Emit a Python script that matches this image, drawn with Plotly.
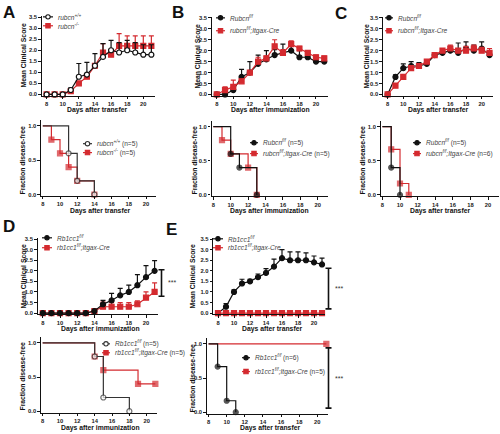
import plotly.graph_objects as go

W, H = 500, 434

# ---------------- data ----------------
days = list(range(8, 22))

# A: clinical score (transfer)
a_wt = [0, 0, 0, 0.2, 0.8, 0.9, 1.3, 1.7, 2.0, 1.9, 2.0, 1.9, 1.8, 1.8]
a_wt_err = [None, None, None, 0.1, 0.6, 0.55, 0.55, 0.6, 0.45, 0.45, 0.45, 0.45, 0.45, 0.45]
a_ko = [0, 0, 0, 0.15, 0.5, 0.8, 1.3, 1.9, 1.8, 2.2, 2.2, 2.2, 2.2, 2.2]
a_ko_err = [None, None, None, None, None, None, None, 0.4, 0.15, 0.55, 0.45, 0.45, 0.45, 0.45]

# B: clinical score (immunization)
b_wt = [0, 0, 0.2, 0.8, 1.0, 1.4, 1.6, 1.8, 1.9, 2.0, 1.7, 1.7, 1.5, 1.5]
b_wt_err = [None, None, 0.1, 0.35, 0.5, 0.4, 0.4, 0.25, 0.4, 0.2, 0.3, 0.2, 0.2, 0.15]
b_ko = [0, 0.2, 0.35, 0.6, 1.0, 1.5, 1.65, 2.2, 1.9, 2.3, 2.1, 1.9, 1.7, 1.65]
b_ko_err = [None, 0.15, 0.3, 0.1, None, 0.2, 0.1, 0.3, 0.15, 0.15, 0.1, 0.1, 0.1, 0.1]

# C: clinical score (transfer)
c_wt = [0, 0.8, 1.2, 1.3, 1.3, 1.4, 1.8, 1.9, 2.0, 1.9, 2.1, 2.0, 2.1, 1.8]
c_wt_err = [None, 0.1, 0.2, 0.2, 0.15, 0.15, 0.1, 0.15, 0.2, 0.45, 0.3, 0.25, 0.3, 0.15]
c_ko = [0, 0.4, 0.8, 1.2, 1.3, 1.5, 1.8, 2.0, 2.1, 2.0, 2.0, 2.1, 2.0, 1.9]
c_ko_err = [None, 0.1, 0.1, 0.1, 0.1, 0.05, 0.1, 0.1, 0.15, 0.1, 0.2, 0.15, 0.15, 0.2]

# D: clinical score (immunization)
d_wt = [0, 0, 0, 0, 0, 0, 0.1, 0.42, 0.6, 0.84, 1.0, 1.32, 1.7, 2.0]
d_wt_err = [None, None, None, None, None, None, None, 0.18, 0.33, 0.33, 0.32, 0.5, 0.55, 0.48]
d_ko = [0, 0, 0, 0, 0, 0, 0.1, 0.3, 0.3, 0.3, 0.3, 0.42, 0.73, 1.0]
d_ko_err = [None, None, None, None, None, None, None, 0.22, 0.2, 0.2, 0.2, 0.16, 0.27, 0.43]

# E: clinical score (transfer)
e_wt = [0, 0.3, 1.0, 1.4, 1.5, 1.7, 1.9, 2.2, 2.6, 2.5, 2.5, 2.5, 2.4, 2.3]
e_wt_err = [None, 0.15, 0.1, 0.2, 0.1, 0.15, 0.2, 0.35, 0.4, 0.4, 0.4, 0.35, 0.3, 0.3]
e_ko = [0] * 14

# Kaplan-Meier (disease-free fraction)
km_a_wt_t = [8, 11, 12, 14];            km_a_wt_f = [1.0, 0.6, 0.2, 0.0]
km_a_ko_t = [8, 9, 10, 11, 12, 14];     km_a_ko_f = [1.0, 0.8, 0.6, 0.4, 0.2, 0.0]
km_b_wt_t = [8, 10, 11, 13];            km_b_wt_f = [1.0, 0.6, 0.4, 0.0]
km_b_ko_t = [8, 9, 10, 12, 13];         km_b_ko_f = [1.0, 0.8, 0.6, 0.4, 0.0]
km_c_wt_t = [8, 9, 10];                 km_c_wt_f = [1.0, 0.4, 0.0]
km_c_ko_t = [8, 9, 10, 11];             km_c_ko_f = [1.0, 0.667, 0.167, 0.0]
km_d_wt_t = [8, 14, 15, 18];            km_d_wt_f = [1.0, 0.8, 0.2, 0.0]
km_d_ko_t = [8, 14, 15, 19, 21];        km_d_ko_f = [1.0, 0.8, 0.6, 0.4, 0.4]
km_e_wt_t = [8, 9, 10, 11];             km_e_wt_f = [1.0, 0.667, 0.167, 0.0]
km_e_ko_t = [8, 21];                    km_e_ko_f = [1.0, 1.0]

score_ticks = [0, 0.5, 1.0, 1.5, 2.0, 2.5, 3.0, 3.5]
frac_ticks = [0, 0.5, 1.0]
day_ticks = [8, 10, 12, 14, 16, 18, 20]

# significance brackets (value ranges)
sig_d_top = (0.8, 2.05)
sig_e_top = (0.2, 2.12)
sig_e_bot = (0.06, 0.94)

# ---------------- styling ----------------
BLACK = "#111111"
RED = "#d42a2f"
FONT = "Liberation Sans, Arial, sans-serif"

fig = go.Figure()

def px_x(p):
    return p / W

def px_y(p):
    return 1 - p / H

def xdom(p10, p20, r0, r1):
    s = (p20 - p10) / 10.0
    return [px_x(p10 + (r0 - 10) * s), px_x(p10 + (r1 - 10) * s)]

def ydom(p0, ptop, vtop, r0, r1):
    s = (ptop - p0) / vtop
    return [px_y(p0 + r0 * s), px_y(p0 + r1 * s)]

TOPX = [7.4, 21.4]
BOTX = [7.8, 21.2]
TOPY = [-0.06, 3.55]
BOTY = [-0.02, 1.08]
panels = {
    1: (62.7, 143.3, TOPX, 93.3, 15.3, 3.5, TOPY, score_ticks),
    2: (60.0, 146.0, BOTX, 194.3, 125.0, 1.0, BOTY, frac_ticks),
    3: (233.3, 316.0, TOPX, 93.3, 16.0, 3.5, TOPY, score_ticks),
    4: (230.7, 317.7, BOTX, 194.7, 125.7, 1.0, BOTY, frac_ticks),
    5: (403.3, 481.7, TOPX, 93.3, 16.0, 3.5, TOPY, score_ticks),
    6: (400.0, 488.0, BOTX, 194.7, 125.7, 1.0, BOTY, frac_ticks),
    7: (60.0, 146.0, TOPX, 314.0, 239.3, 3.5, TOPY, score_ticks),
    8: (60.0, 146.7, BOTX, 413.0, 344.0, 1.0, BOTY, frac_ticks),
    9: (234.0, 314.0, TOPX, 314.0, 239.3, 3.5, TOPY, score_ticks),
    10: (226.7, 317.3, BOTX, 414.0, 345.0, 1.0, BOTY, frac_ticks),
}

tickfont = dict(family=FONT, size=5.8, color="#222222", weight="bold")
for i, (p10, p20, xr, y0, yt, vt, yr, yticks) in panels.items():
    sx = "" if i == 1 else str(i)
    fig.update_layout(**{
        f"xaxis{sx}": dict(domain=xdom(p10, p20, xr[0], xr[1]), range=xr, anchor=f"y{sx}",
                           showline=True, linecolor=BLACK, linewidth=1.2, ticks="outside",
                           ticklen=2.2, tickwidth=1, tickcolor=BLACK, tickvals=day_ticks,
                           tickfont=tickfont, showgrid=False, zeroline=False, fixedrange=True),
        f"yaxis{sx}": dict(domain=ydom(y0, yt, vt, yr[0], yr[1]), range=yr, anchor=f"x{sx}",
                           showline=True, linecolor=BLACK, linewidth=1.2, ticks="outside",
                           ticklen=2.5, tickwidth=1, tickcolor=BLACK, tickvals=yticks,
                           tickformat=".1f", tickfont=tickfont, showgrid=False,
                           zeroline=False, fixedrange=True),
    })

def ax(i):
    return ("x" if i == 1 else f"x{i}"), ("y" if i == 1 else f"y{i}")

def score_trace(i, y, err, color, symbol, fill):
    xa, ya = ax(i)
    ev = err if err is not None else [None] * len(y)
    fig.add_trace(go.Scatter(
        x=days, y=y, xaxis=xa, yaxis=ya, mode="lines+markers", cliponaxis=False,
        line=dict(color=color, width=1.2),
        marker=dict(symbol=symbol, size=5, color=fill, line=dict(color=color, width=1.2)),
        error_y=dict(type="data", array=ev, arrayminus=[0] * len(y), symmetric=False,
                     color=color, thickness=1.2, width=2.5),
        showlegend=False, hoverinfo="skip"))

def km_trace(i, t, f, color, symbol, fill):
    xa, ya = ax(i)
    sizes = [0] + [5] * (len(t) - 1)
    fig.add_trace(go.Scatter(
        x=t, y=f, xaxis=xa, yaxis=ya, mode="lines+markers", cliponaxis=False,
        line=dict(color=color, width=1.2, shape="hv"),
        marker=dict(symbol=symbol, size=sizes, color=fill, line=dict(color=color, width=1.2)),
        showlegend=False, hoverinfo="skip"))

# Panel A
score_trace(1, a_ko, a_ko_err, RED, "square", RED)
score_trace(1, a_wt, a_wt_err, BLACK, "circle", "white")
km_trace(2, km_a_ko_t, km_a_ko_f, RED, "square", RED)
km_trace(2, km_a_wt_t, km_a_wt_f, "#333333", "circle", "white")
# Panel B
score_trace(3, b_wt, b_wt_err, BLACK, "circle", BLACK)
score_trace(3, b_ko, b_ko_err, RED, "square", RED)
km_trace(4, km_b_ko_t, km_b_ko_f, RED, "square", RED)
km_trace(4, km_b_wt_t, km_b_wt_f, BLACK, "circle", BLACK)
# Panel C
score_trace(5, c_wt, c_wt_err, BLACK, "circle", BLACK)
score_trace(5, c_ko, c_ko_err, RED, "square", RED)
km_trace(6, km_c_ko_t, km_c_ko_f, RED, "square", RED)
km_trace(6, km_c_wt_t, km_c_wt_f, BLACK, "circle", BLACK)
# Panel D
score_trace(7, d_ko, d_ko_err, RED, "square", RED)
score_trace(7, d_wt, d_wt_err, BLACK, "circle", BLACK)
km_trace(8, km_d_ko_t, km_d_ko_f, RED, "square", RED)
km_trace(8, km_d_wt_t, km_d_wt_f, "#333333", "circle", "white")
# Panel E
score_trace(9, e_wt, e_wt_err, BLACK, "circle", BLACK)
score_trace(9, e_ko, None, RED, "square", RED)
km_trace(10, km_e_ko_t, km_e_ko_f, RED, "square", RED)
km_trace(10, km_e_wt_t, km_e_wt_f, BLACK, "circle", BLACK)

annotations = []
shapes = []

def text(px, py, s, size=7.5, bold=False, angle=0, anchor="center", color=BLACK):
    annotations.append(dict(
        x=px_x(px), y=px_y(py), xref="paper", yref="paper", text=s, showarrow=False,
        xanchor=anchor, yanchor="middle", textangle=angle,
        font=dict(family=FONT, size=size, color=color,
                  weight="bold" if bold else "normal")))

# panel letters
for L, (lx, ly) in {"A": (9, 11), "B": (178, 11), "C": (341, 12), "D": (9, 227), "E": (171, 230)}.items():
    text(lx, ly, L, size=17, bold=True)

# axis titles
TS = 6.8
for (cx, cy, s) in [(97, 109, "Days after transfer"), (100, 211, "Days after transfer"),
                    (270, 109, "Days after immunization"), (269, 211, "Days after immunization"),
                    (438, 109, "Days after transfer"), (440, 211, "Days after transfer"),
                    (100, 330.5, "Days after immunization"), (100, 429.5, "Days after immunization"),
                    (272, 330.5, "Days after transfer"), (270, 430, "Days after transfer")]:
    text(cx, cy, s, size=TS, bold=True)
for (cx, cy, s) in [(24, 54, "Mean Clinical Score"), (23, 160, "Fraction disease-free"),
                    (197, 55, "Mean Clinical Score"), (195, 160, "Fraction disease-free"),
                    (366, 55, "Mean Clinical Score"), (363, 160, "Fraction disease-free"),
                    (23, 277, "Mean Clinical Score"), (23, 378, "Fraction disease-free"),
                    (192, 277, "Mean Clinical Score"), (192, 380, "Fraction disease-free")]:
    text(cx, cy, s, size=TS, bold=True, angle=-90)

def legend_item(x0, x1, y, color, sym, fill, label):
    shapes.append(dict(type="line", xref="paper", yref="paper", x0=px_x(x0), x1=px_x(x1),
                       y0=px_y(y), y1=px_y(y), line=dict(color=color, width=1.2)))
    cx = (x0 + x1) / 2
    r = 2.2
    shapes.append(dict(type="circle" if sym == "circle" else "rect", xref="paper", yref="paper",
                       x0=px_x(cx - r), x1=px_x(cx + r), y0=px_y(y + r), y1=px_y(y - r),
                       fillcolor=fill, line=dict(color=color, width=1.1)))
    text(x1 + 3, y, label, size=6.6, anchor="left", color="#444444")

def g(name, sup, rest=""):
    return f"<i>{name}</i><sup><i>{sup}</i></sup>{rest}"

legend_item(43, 53, 15, BLACK, "circle", "white", g("rubcn", "+/+"))
legend_item(43, 53, 24, RED, "square", RED, g("rubcn", "-/-"))
legend_item(83, 92, 143, "#333333", "circle", "white", g("rubcn", "+/+", " (n=5)"))
legend_item(83, 92, 152, RED, "square", RED, g("rubcn", "-/-", " (n=5)"))
legend_item(216, 225, 16, BLACK, "circle", BLACK, g("Rubcn", "f/f"))
legend_item(216, 225, 29, RED, "square", RED, g("rubcn", "f/f", "<i>;Itgax-Cre</i>"))
legend_item(250, 258, 142, BLACK, "circle", BLACK, g("Rubcn", "f/f", " (n=5)"))
legend_item(250, 258, 153, RED, "square", RED, g("rubcn", "f/f", "<i>;Itgax-Cre</i> (n=5)"))
legend_item(385, 393, 16, BLACK, "circle", BLACK, g("Rubcn", "f/f"))
legend_item(385, 393, 29, RED, "square", RED, g("rubcn", "f/f", "<i>;Itgax-Cre</i>"))
legend_item(413, 421, 142, BLACK, "circle", BLACK, g("Rubcn", "f/f", " (n=5)"))
legend_item(413, 421, 153, RED, "square", RED, g("rubcn", "f/f", "<i>;Itgax-Cre</i> (n=6)"))
legend_item(42, 52, 238, BLACK, "circle", BLACK, g("Rb1cc1", "f/f"))
legend_item(42, 52, 248, RED, "square", RED, g("rb1cc1", "f/f", "<i>;Itgax-Cre</i>"))
legend_item(102, 110, 345, "#333333", "circle", "white", g("Rb1cc1", "f/f", " (n=5)"))
legend_item(102, 110, 354, RED, "square", RED, g("rb1cc1", "f/f", "<i>;Itgax-Cre</i> (n=5)"))
legend_item(213, 223, 239, BLACK, "circle", BLACK, g("Rb1cc1", "f/f"))
legend_item(213, 223, 248, RED, "square", RED, g("rb1cc1", "f/f", "<i>;Itgax-Cre</i>"))
legend_item(242, 250, 359, BLACK, "circle", BLACK, g("Rb1cc1", "f/f", " (n=6)"))
legend_item(242, 250, 373, RED, "square", RED, g("rb1cc1", "f/f", "<i>;Itgax-Cre</i> (n=5)"))

def bracket(px, yref, lo, hi):
    for (a, b, c, d) in [(px, px, lo, hi), (px - 3, px + 3, lo, lo), (px - 3, px + 3, hi, hi)]:
        shapes.append(dict(type="line", xref="paper", yref=yref, x0=px_x(a), x1=px_x(b),
                           y0=c, y1=d, line=dict(color=BLACK, width=1.6)))
    annotations.append(dict(x=px_x(px + 4), y=(lo + hi) / 2, xref="paper", yref=yref,
                            text="***", showarrow=False, xanchor="left", yanchor="middle",
                            font=dict(family=FONT, size=7, color="#333333")))

bracket(161.5, "y7", *sig_d_top)
bracket(328.5, "y9", *sig_e_top)
bracket(328.5, "y10", *sig_e_bot)

fig.update_layout(width=W, height=H, margin=dict(l=0, r=0, t=0, b=0),
                  paper_bgcolor="white", plot_bgcolor="white",
                  annotations=annotations, shapes=shapes, showlegend=False)

fig.write_html("out.html", config={"displayModeBar": False},
               post_script="document.body.style.margin='0';document.body.style.padding='0';")
